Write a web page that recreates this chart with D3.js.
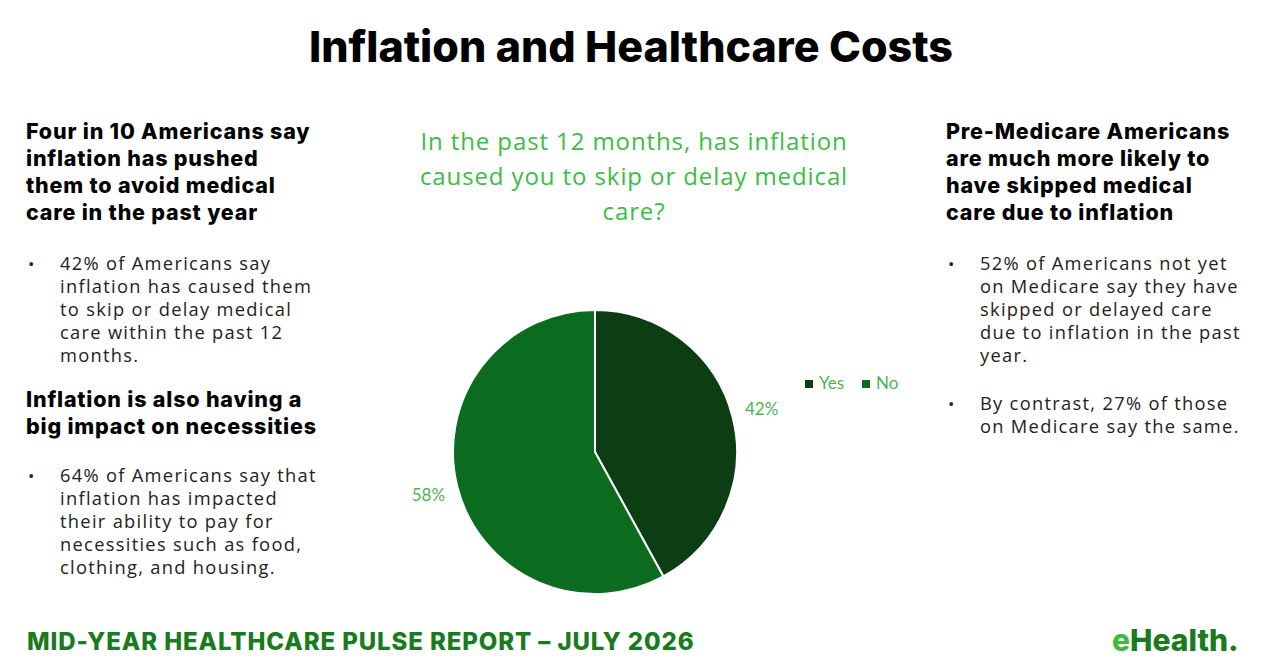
<!DOCTYPE html>
<html>
<head>
<meta charset="utf-8">
<script src="https://cdn.jsdelivr.net/npm/d3@7"></script>
<style>
  body { margin: 0; background: #fff; }
  svg { display: block; }
  .head { font-family: Inter, "Noto Sans", sans-serif; font-weight: 800; fill: #000; }
  .body { font-family: "Open Sans", "Noto Sans", sans-serif; font-weight: 400; fill: #222; }
  .q { font-family: "Open Sans", "Noto Sans", sans-serif; fill: #3cbc45; }
  .lab { font-family: Lato, "Open Sans", sans-serif; fill: #4cb552; }
</style>
</head>
<body>
<div id="chart"></div>
<script>
var width = 1280, height = 666;

// chart data
var categories = ["Yes", "No"],
    values = [42, 58],
    colors = ["#0d3d12", "#0b6b1f"];

var title = "Inflation and Healthcare Costs",
    question = ["In the past 12 months, has inflation", "caused you to skip or delay medical", "care?"],
    footer = "MID-YEAR HEALTHCARE PULSE REPORT \u2013 JULY 2026";

var leftHead1 = ["Four in 10 Americans say", "inflation has pushed", "them to avoid medical", "care in the past year"],
    leftBullet1 = ["42% of Americans say", "inflation has caused them", "to skip or delay medical", "care within the past 12", "months."],
    leftHead2 = ["Inflation is also having a", "big impact on necessities"],
    leftBullet2 = ["64% of Americans say that", "inflation has impacted", "their ability to pay for", "necessities such as food,", "clothing, and housing."],
    rightHead = ["Pre-Medicare Americans", "are much more likely to", "have skipped medical", "care due to inflation"],
    rightBullet1 = ["52% of Americans not yet", "on Medicare say they have", "skipped or delayed care", "due to inflation in the past", "year."],
    rightBullet2 = ["By contrast, 27% of those", "on Medicare say the same."];

var svg = d3.select("#chart").append("svg")
    .attr("width", width)
    .attr("height", height);

svg.append("text")
    .attr("class", "head")
    .attr("x", 631).attr("y", 62)
    .attr("text-anchor", "middle")
    .style("font-size", "43px")
    .style("letter-spacing", "0px")
    .text(title);

function lines(arr, cls, x, y0, lh, size, ls) {
    arr.forEach(function(t, i) {
        svg.append("text")
            .attr("class", cls)
            .attr("x", x).attr("y", y0 + i * lh)
            .style("font-size", size + "px")
            .style("letter-spacing", ls + "px")
            .text(t);
    });
}
function bullet(x, y) {
    svg.append("text").attr("class", "body")
        .attr("x", x).attr("y", y)
        .style("font-size", "17px")
        .text("\u2022");
}

// left column
lines(leftHead1, "head", 26, 139, 27, 21.5, 0.8);
bullet(28, 270);
lines(leftBullet1, "body", 60, 270, 23, 18.3, 1.3);
lines(leftHead2, "head", 26, 407, 27, 21.5, 0.8);
bullet(28, 482);
lines(leftBullet2, "body", 60, 482, 23, 18.3, 1.3);

// right column
lines(rightHead, "head", 946, 139, 27, 21.5, 0.8);
bullet(948, 270);
lines(rightBullet1, "body", 980, 270, 23, 18.3, 1.3);
bullet(948, 410);
lines(rightBullet2, "body", 980, 410, 23, 18.3, 1.3);

// question
question.forEach(function(t, i) {
    svg.append("text")
        .attr("class", "q")
        .attr("x", 634).attr("y", 150 + i * 35)
        .attr("text-anchor", "middle")
        .style("font-size", "24px")
        .style("letter-spacing", "0.9px")
        .text(t);
});

// pie
var cx = 595, cy = 452, r = 142;
var pie = d3.pie().sort(null).value(function(d) { return d; });
var arc = d3.arc().innerRadius(0).outerRadius(r);
var labelArc = d3.arc().innerRadius(172).outerRadius(172);
var arcs = pie(values);

var g = svg.append("g").attr("transform", "translate(" + cx + "," + cy + ")");
g.selectAll("path")
    .data(arcs)
    .enter().append("path")
    .attr("d", arc)
    .attr("fill", function(d, i) { return colors[i]; })
    .attr("stroke", "#fff")
    .attr("stroke-width", 2);

g.selectAll(".pct")
    .data(arcs)
    .enter().append("text")
    .attr("class", "lab")
    .attr("transform", function(d) { return "translate(" + labelArc.centroid(d) + ")"; })
    .attr("text-anchor", "middle")
    .attr("dy", "0.35em")
    .style("font-size", "17px")
    .text(function(d) { return d.data + "%"; });

// legend
var legend = svg.selectAll(".legend")
    .data(categories)
    .enter().append("g")
    .attr("class", "legend")
    .attr("transform", function(d, i) { return "translate(" + [805, 862][i] + ",380)"; });
legend.append("rect")
    .attr("width", 8).attr("height", 8)
    .attr("fill", function(d, i) { return colors[i]; });
legend.append("text")
    .attr("class", "lab")
    .attr("x", 14).attr("y", 9)
    .style("font-size", "17px")
    .text(function(d) { return d; });

// footer
svg.append("text")
    .attr("class", "head")
    .attr("x", 27).attr("y", 650)
    .style("font-size", "24px")
    .style("letter-spacing", "0.9px")
    .style("fill", "#1a7a1e")
    .text(footer);

var logo = svg.append("text")
    .attr("class", "head")
    .attr("x", 1112).attr("y", 651)
    .style("font-size", "30px")
    .style("letter-spacing", "0px");
logo.append("tspan").style("fill", "#3cbc3c").text("e");
logo.append("tspan").style("fill", "#1a7a1e").text("Health.");
</script>
</body>
</html>
